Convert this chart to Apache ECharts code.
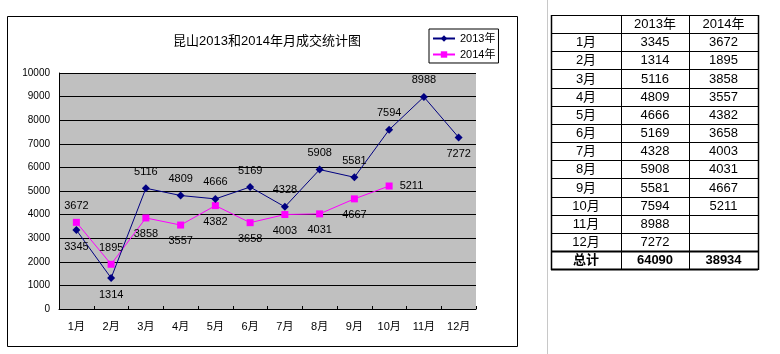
<!DOCTYPE html>
<html>
<head>
<meta charset="utf-8">
<script src="https://cdn.jsdelivr.net/npm/echarts@6/dist/echarts.min.js"></script>
<style>
  html, body { margin: 0; padding: 0; background: #fff; }
  #main { width: 780px; height: 354px; }
</style>
</head>
<body>
<div id="main"></div>
<script>
// 数据
var months = ['1月', '2月', '3月', '4月', '5月', '6月', '7月', '8月', '9月', '10月', '11月', '12月'];
var seriesNames = ['2013年', '2014年'];
var data2013 = [3345, 1314, 5116, 4809, 4666, 5169, 4328, 5908, 5581, 7594, 8988, 7272];
var data2014 = [3672, 1895, 3858, 3557, 4382, 3658, 4003, 4031, 4667, 5211];
var yTicks = [0, 1000, 2000, 3000, 4000, 5000, 6000, 7000, 8000, 9000, 10000];
var totalLabel = '总计';

// 标签位置
var pos2013 = ['bottom', 'bottom', 'top', 'top', 'top', 'top', 'top', 'top', 'top', 'top', 'top', 'bottom'];
var pos2014 = ['top', 'top', 'bottom', 'bottom', 'bottom', 'bottom', 'bottom', 'bottom', 'bottom', 'right'];

var FONT = "'Liberation Sans', 'Noto Sans CJK SC', sans-serif";

function withLabels(values, positions) {
  return values.map(function (v, i) {
    return { value: v, label: { position: positions[i] } };
  });
}

function sum(arr) {
  return arr.reduce(function (a, b) { return a + b; }, 0);
}

// 右侧表格 用graphic画
function buildTable() {
  var colX = [551, 621, 689, 758];
  var top = 15, rowH = 18.15;
  var rows = [['', seriesNames[0], seriesNames[1]]];
  months.forEach(function (m, i) {
    rows.push([m, data2013[i] != null ? String(data2013[i]) : '', data2014[i] != null ? String(data2014[i]) : '']);
  });
  rows.push([totalLabel, String(sum(data2013)), String(sum(data2014))]);
  var children = [];
  var bottom = top + rowH * rows.length;
  // 横线
  for (var r = 0; r <= rows.length; r++) {
    var y = Math.round(top + rowH * r) + 0.5;
    var w = (r >= rows.length - 1) ? 2 : 1;
    children.push({
      type: 'line',
      shape: { x1: colX[0], y1: y, x2: colX[3], y2: y },
      style: { stroke: '#000', lineWidth: w }
    });
  }
  // 竖线
  colX.forEach(function (x, i) {
    children.push({
      type: 'line',
      shape: { x1: x + 0.5, y1: top, x2: x + 0.5, y2: Math.round(bottom) + 1 },
      style: { stroke: '#000', lineWidth: (i === 0 || i === 3) ? 1.5 : 1 }
    });
  });
  // 文字
  rows.forEach(function (row, r) {
    var isTotal = r === rows.length - 1;
    row.forEach(function (txt, c) {
      if (!txt) return;
      children.push({
        type: 'text',
        style: {
          x: (colX[c] + colX[c + 1]) / 2,
          y: top + rowH * r + rowH / 2 + 0.5,
          text: txt,
          align: 'center',
          verticalAlign: 'middle',
          fill: '#000',
          font: (isTotal ? 'bold ' : '') + '13px ' + FONT
        }
      });
    });
  });
  return { type: 'group', children: children };
}

var chart = echarts.init(document.getElementById('main'));

chart.setOption({
  backgroundColor: '#fff',
  animation: false,
  title: {
    text: '昆山2013和2014年月成交统计图',
    left: 262,
    top: 30,
    textAlign: 'center',
    textStyle: { fontSize: 13, fontWeight: 'normal', color: '#000', fontFamily: FONT }
  },
  legend: {
    data: seriesNames,
    orient: 'vertical',
    left: 429,
    top: 29,
    itemWidth: 22,
    itemHeight: 8,
    itemGap: 5,
    padding: [4, 3, 3, 3],
    borderColor: '#000',
    borderWidth: 1,
    backgroundColor: '#fff',
    textStyle: { fontSize: 11, color: '#000', fontFamily: FONT }
  },
  grid: {
    left: 59,
    right: 304,
    top: 73,
    bottom: 45,
    show: true,
    backgroundColor: '#C0C0C0',
    borderWidth: 0
  },
  xAxis: {
    type: 'category',
    data: months,
    boundaryGap: true,
    axisLine: { lineStyle: { color: '#000', width: 1 } },
    axisTick: { show: true, inside: true, length: 3, lineStyle: { color: '#000' } },
    axisLabel: { color: '#000', fontSize: 11, margin: 12, fontFamily: FONT }
  },
  yAxis: {
    type: 'value',
    min: yTicks[0],
    max: yTicks[yTicks.length - 1],
    interval: yTicks[1] - yTicks[0],
    axisLine: { show: true, lineStyle: { color: '#000', width: 1 } },
    axisTick: { show: false },
    axisLabel: {
      color: '#000',
      fontSize: 10,
      margin: 9,
      fontFamily: FONT,
      formatter: function (v) { return String(v); }
    },
    splitLine: { show: true, lineStyle: { color: '#000', width: 1 } }
  },
  series: [
    {
      name: seriesNames[0],
      type: 'line',
      data: withLabels(data2013, pos2013),
      symbol: 'diamond',
      symbolSize: 8,
      itemStyle: { color: '#000080' },
      lineStyle: { color: '#000080', width: 1 },
      label: { show: true, color: '#000', fontSize: 11, distance: 7, fontFamily: FONT },
      z: 3
    },
    {
      name: seriesNames[1],
      type: 'line',
      data: withLabels(data2014, pos2014),
      symbol: 'rect',
      symbolSize: 7,
      itemStyle: { color: '#FF00FF' },
      lineStyle: { color: '#FF00FF', width: 1 },
      label: { show: true, color: '#000', fontSize: 11, distance: 7, fontFamily: FONT },
      z: 2
    }
  ],
  graphic: [
    {
      type: 'rect',
      z: -10,
      shape: { x: 7.5, y: 16.5, width: 510, height: 330 },
      style: { fill: 'none', stroke: '#000', lineWidth: 1 }
    },
    {
      type: 'line',
      shape: { x1: 547.5, y1: 0, x2: 547.5, y2: 354 },
      style: { stroke: '#c8c8c8', lineWidth: 1 }
    },
    buildTable()
  ]
});
</script>
</body>
</html>
